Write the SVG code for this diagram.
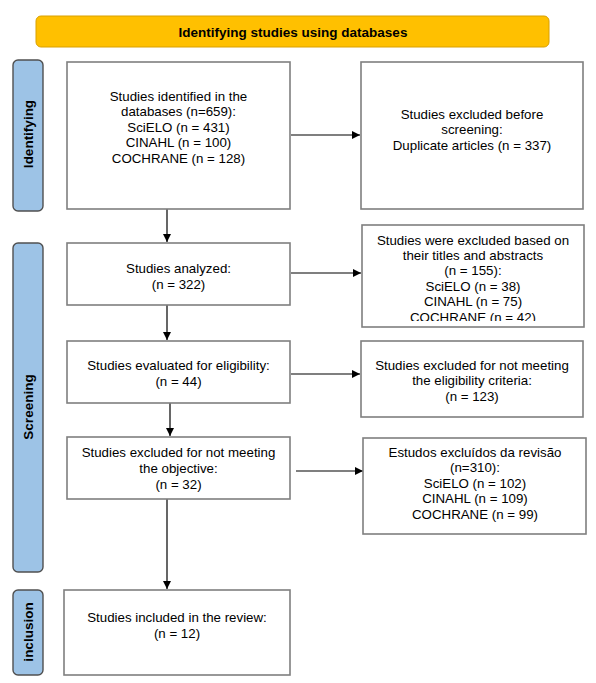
<svg xmlns="http://www.w3.org/2000/svg" width="596" height="683" viewBox="0 0 596 683">
<style>
.box{fill:#fff;stroke:#7f7f7f;stroke-width:1.6}
.side{fill:#9dc3e6;stroke:#505050;stroke-width:1.4}
.hdr{fill:#ffc000;stroke:#d9a000;stroke-width:1}
.t{font-family:"Liberation Sans",Arial,sans-serif;font-size:13.3px;fill:#000;text-anchor:middle}
.b{font-family:"Liberation Sans",Arial,sans-serif;font-size:13.5px;font-weight:bold;fill:#000;text-anchor:middle}
.c{stroke:#000;stroke-width:1.2;fill:none;marker-end:url(#ah)}
</style>
<defs>
<marker id="ah" markerWidth="10" markerHeight="10" refX="8" refY="4" orient="auto" markerUnits="userSpaceOnUse">
<path d="M0,0 L8,4 L0,8 Z" fill="#000"/>
</marker>
<clipPath id="clip4"><rect x="362" y="225" width="223" height="96"/></clipPath>
</defs>
<rect width="596" height="683" fill="#fff"/>
<g id="header">
<rect class="hdr" x="36" y="16" width="513" height="31" rx="5"/>
<text class="b" x="293" y="36.5">Identifying studies using databases</text>
</g>
<g id="label-identifying">
<rect class="side" x="13" y="60" width="30" height="151" rx="5"/>
<text class="b" transform="translate(33,134) rotate(-90)">Identifying</text>
</g>
<g id="label-screening">
<rect class="side" x="13" y="243" width="30" height="329" rx="5"/>
<text class="b" transform="translate(33,407) rotate(-90)">Screening</text>
</g>
<g id="label-inclusion">
<rect class="side" x="13" y="590" width="30" height="85" rx="5"/>
<text class="b" transform="translate(33,632) rotate(-90)">inclusion</text>
</g>
<g id="connectors">
<line class="c" x1="291" y1="135" x2="360" y2="135"/>
<line class="c" x1="291" y1="273" x2="361" y2="273"/>
<line class="c" x1="291" y1="374" x2="360" y2="374"/>
<line class="c" x1="296" y1="471" x2="363" y2="471"/>
<line class="c" x1="167" y1="209" x2="167" y2="242"/>
<line class="c" x1="167" y1="305" x2="167" y2="340"/>
<line class="c" x1="170" y1="403" x2="170" y2="436"/>
<line class="c" x1="167" y1="499" x2="167" y2="589"/>
</g>
<g id="n1">
<rect class="box" x="67" y="62" width="223" height="147"/>
<text class="t" x="178.5" y="100.5">Studies identified in the</text>
<text class="t" x="178.5" y="116">databases (n=659):</text>
<text class="t" x="178.5" y="131.5">SciELO (n = 431)</text>
<text class="t" x="178.5" y="147">CINAHL (n = 100)</text>
<text class="t" x="178.5" y="162.5">COCHRANE (n = 128)</text>
</g>
<g id="n2">
<rect class="box" x="361" y="62" width="222" height="147"/>
<text class="t" x="472" y="118.5">Studies excluded before</text>
<text class="t" x="472" y="134">screening:</text>
<text class="t" x="472" y="149.5">Duplicate articles (n = 337)</text>
</g>
<g id="n3">
<rect class="box" x="67" y="243" width="223" height="62"/>
<text class="t" x="178.5" y="272.5">Studies analyzed:</text>
<text class="t" x="178.5" y="288.5">(n = 322)</text>
</g>
<g id="n4">
<rect class="box" x="362" y="225" width="222" height="102"/>
<g clip-path="url(#clip4)">
<text class="t" x="473" y="244.5">Studies were excluded based on</text>
<text class="t" x="473" y="259.5">their titles and abstracts</text>
<text class="t" x="473" y="275">(n = 155):</text>
<text class="t" x="473" y="290.5">SciELO (n = 38)</text>
<text class="t" x="473" y="306">CINAHL (n = 75)</text>
<text class="t" x="473" y="321.5">COCHRANE (n = 42)</text>
</g>
</g>
<g id="n5">
<rect class="box" x="67" y="341" width="223" height="62"/>
<text class="t" x="178.5" y="369.5">Studies evaluated for eligibility:</text>
<text class="t" x="178.5" y="385.5">(n = 44)</text>
</g>
<g id="n6">
<rect class="box" x="361" y="341" width="222" height="76"/>
<text class="t" x="472" y="369.5">Studies excluded for not meeting</text>
<text class="t" x="472" y="385">the eligibility criteria:</text>
<text class="t" x="472" y="400.5">(n = 123)</text>
</g>
<g id="n7">
<rect class="box" x="67" y="437" width="223" height="62"/>
<text class="t" x="178.5" y="456.5">Studies excluded for not meeting</text>
<text class="t" x="178.5" y="472.5">the objective:</text>
<text class="t" x="178.5" y="488.5">(n = 32)</text>
</g>
<g id="n8">
<rect class="box" x="363" y="438" width="223" height="96"/>
<text class="t" x="475" y="456.5">Estudos excluídos da revisão</text>
<text class="t" x="475" y="472">(n=310):</text>
<text class="t" x="475" y="487.5">SciELO (n = 102)</text>
<text class="t" x="475" y="503">CINAHL (n = 109)</text>
<text class="t" x="475" y="518.5">COCHRANE (n = 99)</text>
</g>
<g id="n9">
<rect class="box" x="64" y="590" width="226" height="85"/>
<text class="t" x="177" y="621.5">Studies included in the review:</text>
<text class="t" x="177" y="637.5">(n = 12)</text>
</g>
</svg>
